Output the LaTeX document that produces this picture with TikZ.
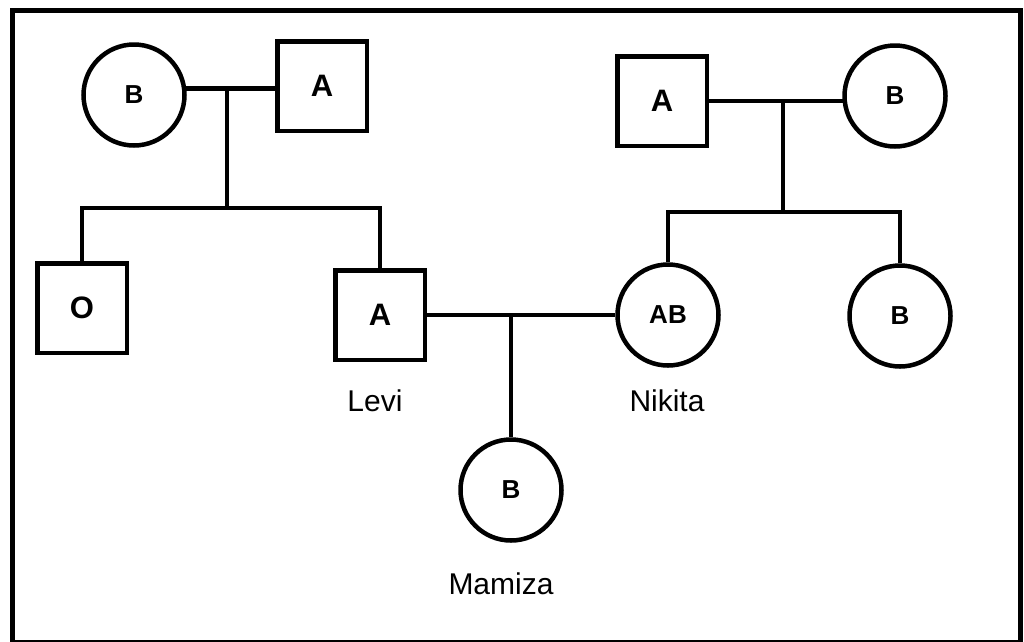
\documentclass[tikz,border=0pt]{standalone}
\usepackage{fontspec}
\setmainfont{Liberation Sans}
\begin{document}
\begin{tikzpicture}[x=1pt,y=-1pt,
  male/.style={draw, line width=4.5pt, rectangle, minimum size=89.5pt, inner sep=0pt,
    font=\bfseries\fontsize{31}{33}\selectfont},
  female/.style={draw, line width=4.5pt, circle, minimum size=101pt, inner sep=0pt,
    font=\bfseries\fontsize{26}{28}\selectfont},
  link/.style={line width=4.2pt},
  personname/.style={font=\fontsize{30}{32}\selectfont}]
\useasboundingbox (0,0) rectangle (1024,641);
\draw[line width=5pt] (12,10) rectangle (1020,642);

% first generation, left couple
\node[female] (gm1) at (134,95) {B};
\node[male]   (gf1) at (322,86) {A};
% first generation, right couple
\node[male]   (gf2) at (662,101) {A};
\node[female] (gm2) at (895,96) {B};

% second generation
\node[male]   (son)  at (82,308)  {O};
\node[male]   (levi) at (380,315) {A};
\node[female] (nik)  at (668,315) {AB};
\node[female] (sis)  at (900,316) {B};

% third generation
\node[female] (mam) at (511,490) {B};

% names
\node[personname] (levin) at (375,401) {Levi};
\node[personname] (nikn)  at (667,401) {Nikita};
\node[personname] (mamn)  at (501,584) {Mamiza};

% junction points
\coordinate (m1) at (227,89);
\coordinate (s1) at (227,208);
\coordinate (m2) at (783,102);
\coordinate (s2) at (783,212);
\coordinate (m3) at (511,315);

% left couple and their children
\draw[link] (gm1.7) -- (gm1.7 -| gf1.west);
\draw[link] (m1) -- (s1);
\draw[link] (son.north) -- (son.north |- s1) -- (levi.north |- s1) -- (levi.north);

% right couple and their children
\draw[link] (gf2.east) -- (gf2.east -| gm2.187);
\draw[link] (m2) -- (s2);
\draw[link] (nik.north) -- (nik.north |- s2) -- (sis.north |- s2) -- (sis.north);

% Levi and Nikita with their child
\draw[link] (levi.east) -- (nik.west);
\draw[link] (m3) -- (mam.north);
\end{tikzpicture}
\end{document}
